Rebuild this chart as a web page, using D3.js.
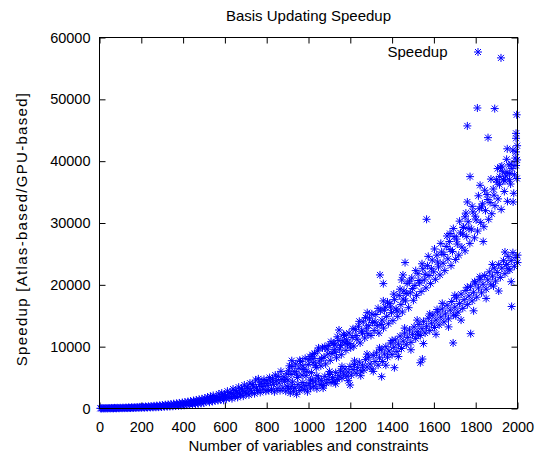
<!DOCTYPE html>
<html>
<head>
<meta charset="utf-8">
<script src="https://cdn.jsdelivr.net/npm/d3@7"></script>
<style>
  body { margin: 0; background: #fff; }
  svg text { font-family: "Liberation Sans", Arial, sans-serif; font-size: 15px; fill: #000; }
</style>
</head>
<body>
<script>
// Speedup vs problem size
const lowRange = [
  [4,30],[9,10],[13,60],[18,20],[22,50],[27,15],[31,70],[36,35],[40,20],[45,80],[49,45],[54,25],[58,90],[63,50],[67,30],
  [72,100],[76,60],[81,35],[85,110],[90,70],[94,40],[99,120],[103,80],[108,50],[112,140],[117,90],[121,60],[126,150],
  [130,100],[135,65],[139,170],[144,115],[148,75],[153,190],[157,130],[162,85],[166,210],[171,140],[175,95],[180,240],
  [184,160],[189,105],[193,260],[198,180],[202,120],[207,290],[211,200],[216,130],[220,320],[225,220],[229,150],[234,350],
  [238,240],[243,165],[247,390],[252,270],[256,180],[261,430],[265,300],[270,200],[274,470],[279,330],[283,220],[288,510],
  [292,360],[297,245],[301,560],[306,400],[310,270],[315,610],[319,440],[324,300],[328,660],[333,480],[337,330],[342,720],
  [346,520],[351,360],[355,780],[360,570],[364,400],[369,840],[373,620],[378,430],[382,900],[387,670],[391,470],[396,970],
  [400,730],[405,510],[409,1040],[414,790],[418,550],[423,1120],[427,850],[432,600],[436,1200],[441,910],[445,650],
  [450,1290],[454,980],[459,700],[463,1380],[468,1050],[472,760],[477,1470],[481,1120],[486,820],[490,1570],[495,1200],
  [499,880],[504,1680],[508,1180],[513,1450],[517,1850],[522,1290],[526,1020],[531,1950],[535,1560],[540,1150],[544,2100],
  [549,1420],[553,1250],[558,1900],[562,1760],[567,1300],[571,2350],[576,1640],[580,1420],[585,2500],[589,1950],[594,1330],
  [598,2300],[603,2150],[607,1600],[612,2800],[616,1900],[621,1750],[625,2600],[630,2400],[634,1600],[639,3150],[643,2200],
  [648,1950],[652,2900],[657,2650],[661,1800],[666,3450],[670,2450],[675,2150],[679,3200],[684,2950],[688,2000],[693,3800],
  [697,2700],[702,2400],[706,3500],[711,3250],[715,2200],[720,4100],[724,2950],[729,2650],[733,3900],[738,3500],[742,2400],
  [747,4600],[751,3300],[756,2900],[760,4800],[765,3850],[769,2600],[774,4300],[778,3550],[783,3100],[787,4700],[792,4050],
  [796,2800],[801,4500],[805,3700],[810,2900],[814,5000],[819,4300],[823,3100],[828,4800],[832,3900],[837,2700],[841,5400],
  [846,4500],[850,3200],[855,5200],[859,4100],[864,2900],[868,6000],[873,4700],[877,3300],[882,5100],[886,4400],[891,2800],
  [896,5600],[898,3600]
];

const upperBranch = [
  [902,4600],[909,6900],[917,5500],[924,4300],[932,6000],[939,7200],[947,5000],[954,6500],[962,7600],[969,5400],
  [977,6300],[984,8100],[992,6000],[999,7100],[1007,8400],[1014,5800],[1022,7400],[1029,8900],[1037,6600],[1044,9300],
  [1052,7700],[1059,6900],[1067,9800],[1074,8300],[1082,7200],[1089,9600],[1097,10200],[1104,7800],[1112,8900],[1119,10500],
  [1127,9100],[1134,8200],[1142,11000],[1149,9600],[1157,8700],[1164,10900],[1172,11800],[1179,9400],[1187,10300],[1194,12200],
  [1202,9800],[1209,11500],[1217,10100],[1224,12800],[1232,11200],[1239,13300],[1247,10600],[1254,12500],[1262,14000],
  [1269,11400],[1277,13000],[1284,12100],[1292,14600],[1299,11800],[1307,13900],[1314,12600],[1322,15200],[1329,13400],
  [1337,12200],[1344,15800],[1352,14300],[1359,13000],[1367,16400],[1374,14900],[1382,13700],[1389,17000],[1397,15500],
  [1404,14200],[1412,17600],[1419,16100],[1427,14900],[1434,18300],[1442,16800],[1449,15600],[1457,19000],[1464,17400],
  [1472,20200],[1479,16300],[1487,18700],[1494,21100],[1502,17500],[1509,19900],[1517,18300],[1524,21800],[1532,20300],
  [1539,18900],[1547,22600],[1554,20800],[1562,19500],[1569,23100],[1577,21500],[1584,20200],[1592,24000],[1599,22100],
  [1607,20900],[1614,24800],[1622,22900],[1629,21600],[1637,25300],[1644,23500],[1652,22300],[1659,26200],[1667,24200],
  [1674,27000],[1682,23100],[1689,25400],[1697,27800],[1704,24100],[1712,26600],[1719,24800],[1727,28400],[1734,26100],
  [1742,29300],[1749,25500],[1757,27800],[1764,30200],[1772,26700],[1779,29000],[1787,31800],[1794,27600],[1802,30500],
  [1809,28700],[1817,32300],[1824,30100],[1832,33100],[1839,29400],[1847,32000],[1854,34600],[1862,30600],[1869,33300],
  [1877,31500],[1884,35500],[1892,32800],[1899,37000],[1907,33900],[1914,36200],[1922,32200],[1929,38300],[1937,35100],
  [1944,37600],[1952,33500],[1959,39400],[1967,36300],[1974,38800],[1982,34800],[1989,40500],[1997,37200]
];

const upperExtra = [
  [905,6100],[921,6800],[943,5600],[958,7800],[973,6900],[988,5300],[1003,7900],[1018,8700],[1033,7000],[1048,9800],
  [1063,8100],[1078,10000],[1093,8800],[1108,10800],[1123,9500],[1138,11600],[1153,10200],[1168,12000],[1183,11100],
  [1198,10500],[1213,12900],[1228,11800],[1243,14100],[1258,12200],[1273,14700],[1288,13400],[1303,15300],[1318,14000],
  [1333,16200],[1348,13600],[1363,15900],[1378,17200],[1393,16400],[1408,18500],[1423,15800],[1438,19300],[1453,17700],
  [1468,18600],[1483,20600],[1498,19400],[1513,22300],[1528,20700],[1543,23400],[1558,21700],[1573,24600],[1588,22600],
  [1603,25800],[1618,23700],[1633,26700],[1648,24900],[1663,27900],[1678,25700],[1693,29100],[1708,27400],[1723,30300],
  [1738,28200],[1753,31600],[1768,29100],[1783,32700],[1798,31100],[1813,34400],[1828,32600],[1843,35300],[1858,33800],
  [1873,37100],[1888,34500],[1903,36600],[1918,39000],[1933,37000],[1948,40300],[1963,38000],[1978,41800],[1993,39300]
];

const lowerBranch = [
  [905,3200],[913,2500],[920,3600],[928,2800],[935,3300],[943,2300],[950,3900],[958,2900],[965,3500],[973,4200],
  [980,3100],[988,3700],[995,2700],[1003,4000],[1010,3300],[1018,4600],[1025,3600],[1033,4300],[1040,3200],[1048,4900],
  [1055,3900],[1063,4500],[1070,3700],[1078,5200],[1085,4100],[1093,4700],[1100,5500],[1108,4200],[1115,5000],[1123,4400],
  [1130,5800],[1138,4700],[1145,5300],[1153,6100],[1160,4900],[1168,5600],[1175,6400],[1183,5200],[1190,5900],[1198,6800],
  [1205,5400],[1213,6300],[1220,7100],[1228,5700],[1235,6600],[1243,7500],[1250,6100],[1258,7000],[1265,6200],[1273,7900],
  [1280,6700],[1288,8300],[1295,7200],[1303,6400],[1310,8600],[1318,7600],[1325,9000],[1333,7000],[1340,8200],[1348,9500],
  [1355,7600],[1363,8800],[1370,10000],[1378,8300],[1385,9300],[1393,10600],[1400,8700],[1408,9900],[1415,11100],[1423,9200],
  [1430,10400],[1438,11700],[1445,9700],[1453,10900],[1460,12200],[1468,10300],[1475,11500],[1483,12700],[1490,10700],
  [1498,12000],[1505,13200],[1513,11300],[1520,12400],[1528,13600],[1535,11800],[1543,12900],[1550,14100],[1558,12200],
  [1565,13300],[1573,14600],[1580,12600],[1588,13800],[1595,15100],[1603,13100],[1610,14300],[1618,15600],[1625,13500],
  [1633,14800],[1640,16100],[1648,14000],[1655,15300],[1663,16700],[1670,14500],[1678,15900],[1685,17300],[1693,15100],
  [1700,16400],[1708,17900],[1715,15600],[1723,17000],[1730,18500],[1738,16200],[1745,17600],[1753,19100],[1760,16800],
  [1768,18200],[1775,19700],[1783,17400],[1790,18800],[1798,20300],[1805,18000],[1813,19500],[1820,20900],[1828,18700],
  [1835,20100],[1843,21500],[1850,19300],[1858,20800],[1865,22100],[1873,20000],[1880,21400],[1888,22700],[1895,20600],
  [1903,22000],[1910,23300],[1918,21200],[1925,22700],[1933,23900],[1940,21800],[1948,23300],[1955,24600],[1963,22400],
  [1970,23900],[1978,25200],[1985,23000],[1993,24400],[2000,23600]
];

const lowerExtra = [
  [1010,4600],[1040,5300],[1070,3300],[1100,6000],[1130,4000],[1160,6800],[1190,4500],[1220,7700],[1250,5300],[1280,8800],
  [1310,6000],[1340,9800],[1370,7000],[1400,11000],[1430,8400],[1460,13000],[1490,9500],[1520,14300],[1550,10500],
  [1580,15300],[1610,12000],[1640,17000],[1670,13200],[1700,18300],[1730,14300],[1760,19600],[1790,15800],[1820,21300],
  [1850,17800],[1880,23300],[1910,19000],[1940,25300],[1970,20500],[2000,24800],[1525,12000],[1615,16000],[1705,15000],
  [1795,20500],[1885,19800],[1955,22600]
];

const outliers = [
  [1342,21600],[1358,20200],[1358,17400],[1281,15500],[1146,12700],[1127,10300],[1175,10600],[920,7730],[1026,8100],
  [1350,5150],[1199,3800],[1535,7400],[1545,8000],[1411,6600],[1692,10600],[1776,12100],[1808,48600],[1891,48500],
  [1996,47500],[1760,45700],[1859,43800],[1993,44500],[1993,43700],[1951,42000],[1993,41500],[1773,37500],[1921,56700],
  [1565,30600],[1462,23600],[1452,21600],[1446,20800],[1972,16500],[1821,36100],[1760,33400],[1979,33400],[1836,27000],
  [1677,28300],[1749,31000],[1740,29300],[1905,38800],[1915,37500],[1925,39200],[1940,36800],[1950,38200],[1962,37000],
  [1970,39500],[1985,37800],[1998,40200],[1998,42500]
];

const xTicks = [0, 200, 400, 600, 800, 1000, 1200, 1400, 1600, 1800, 2000];
const yTicks = [0, 10000, 20000, 30000, 40000, 50000, 60000];
const seriesName = 'Speedup';

const W = 542, H = 455;
const plotL = 99.5, plotR = 517.5, plotT = 37.5, plotB = 408.5;
const blue = '#0000ff';
const star = 'M-4,0H4M0,-4V4M-3,-3L3,3M-3,3L3,-3';

const svg = d3.select('body').append('svg').attr('width', W).attr('height', H);

const x = d3.scaleLinear().domain([0, 2000]).range([plotL, plotR]);
const y = d3.scaleLinear().domain([0, 60000]).range([plotB, plotT]);

// axes, ticks pointing inward on all four sides
const tickStyle = (g) => {
  g.select('.domain').remove();
  g.selectAll('.tick line').attr('stroke', '#000');
  g.selectAll('.tick text').attr('fill', '#000').style('font-size', '14.5px');
};
svg.append('g').attr('transform', `translate(0,${plotB})`)
  .call(d3.axisBottom(x).tickValues(xTicks).tickSize(-6).tickPadding(13).tickFormat(d3.format('d')))
  .call(tickStyle);
svg.append('g').attr('transform', `translate(${plotL},0)`)
  .call(d3.axisLeft(y).tickValues(yTicks).tickSize(-6).tickPadding(9).tickFormat(d3.format('d')))
  .call(tickStyle);
svg.append('g').attr('transform', `translate(0,${plotT})`)
  .call(d3.axisTop(x).tickValues(xTicks).tickSize(-6).tickFormat(''))
  .call(tickStyle);
svg.append('g').attr('transform', `translate(${plotR},0)`)
  .call(d3.axisRight(y).tickValues(yTicks).tickSize(-6).tickFormat(''))
  .call(tickStyle);

// data points
const points = [...lowRange, ...lowerBranch, ...lowerExtra, ...upperBranch, ...upperExtra, ...outliers];
svg.append('g')
  .selectAll('path')
  .data(points)
  .enter()
  .append('path')
  .attr('d', star)
  .attr('transform', (d) => `translate(${x(d[0])},${y(d[1])})`)
  .attr('fill', 'none')
  .attr('stroke', blue)
  .attr('stroke-width', 1);

// frame
svg.append('rect')
  .attr('x', plotL).attr('y', plotT)
  .attr('width', plotR - plotL).attr('height', plotB - plotT)
  .attr('fill', 'none').attr('stroke', '#000').attr('stroke-width', 1);

// key
svg.append('text').attr('x', 447.5).attr('y', 52).attr('dy', '0.35em')
  .attr('text-anchor', 'end').text(seriesName);
svg.append('path').attr('d', star).attr('transform', 'translate(478,52)')
  .attr('fill', 'none').attr('stroke', blue).attr('stroke-width', 1);

// titles
svg.append('text').attr('x', 308.5).attr('y', 16).attr('dy', '0.35em')
  .attr('text-anchor', 'middle').text('Basis Updating Speedup');
svg.append('text').attr('x', 308.5).attr('y', 445.5).attr('dy', '0.35em')
  .attr('text-anchor', 'middle').text('Number of variables and constraints');
svg.append('text').attr('transform', 'translate(22,229) rotate(-90)')
  .attr('dy', '0.35em').attr('text-anchor', 'middle').style('letter-spacing', '1.3px')
  .text('Speedup [Atlas-based/GPU-based]');
</script>
</body>
</html>
